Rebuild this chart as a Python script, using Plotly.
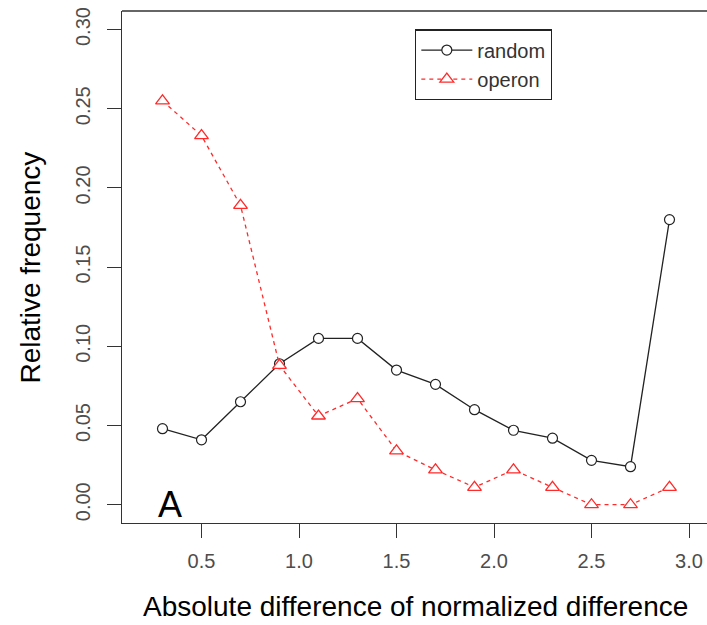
import plotly.graph_objects as go

x_vals = [0.3, 0.5, 0.7, 0.9, 1.1, 1.3, 1.5, 1.7, 1.9, 2.1, 2.3, 2.5, 2.7, 2.9]
random_vals = [0.048, 0.041, 0.065, 0.089, 0.105, 0.105, 0.085, 0.076, 0.060, 0.047, 0.042, 0.028, 0.024, 0.180]
operon_vals = [0.255, 0.233, 0.189, 0.088, 0.056, 0.067, 0.034, 0.022, 0.011, 0.022, 0.011, 0.0, 0.0, 0.011]

x_ticks = [0.5, 1.0, 1.5, 2.0, 2.5, 3.0]
x_ticktext = ["0.5", "1.0", "1.5", "2.0", "2.5", "3.0"]
y_ticks = [0.0, 0.05, 0.10, 0.15, 0.20, 0.25, 0.30]
y_ticktext = ["0.00", "0.05", "0.10", "0.15", "0.20", "0.25", "0.30"]

FONT = "Liberation Sans, Arial, sans-serif"
AX = "#333333"
TICKC = "#4d4d4d"

fig = go.Figure()
fig.add_trace(go.Scatter(
    x=x_vals, y=random_vals, name="random", mode="lines+markers",
    line=dict(color="#222222", width=1.3),
    marker=dict(symbol="circle", size=10, color="white",
                line=dict(color="#222222", width=1.2)),
))
fig.add_trace(go.Scatter(
    x=x_vals, y=operon_vals, name="operon", mode="lines+markers",
    line=dict(color="#ff2a2a", width=1.3, dash="4px,4px"),
    marker=dict(symbol="triangle-up", size=12, color="white",
                line=dict(color="#ff2a2a", width=1.3)),
))

fig.update_layout(
    width=707, height=625,
    margin=dict(l=122, r=0, t=11, b=102, autoexpand=False),
    paper_bgcolor="white", plot_bgcolor="white",
    font=dict(family=FONT, color=TICKC, size=20),
    showlegend=True,
    legend=dict(
        x=0.5009, y=0.9643, xanchor="left", yanchor="top",
        bordercolor="#222222", borderwidth=1.3, bgcolor="white",
        font=dict(family=FONT, size=20, color="#333333"),
        tracegroupgap=0, itemwidth=51,
    ),
    xaxis=dict(
        range=[0.0923, 3.0923], showgrid=False, zeroline=False,
        showline=True, linecolor=AX, linewidth=1.3,
        tickvals=x_ticks, ticktext=x_ticktext,
        ticks="outside", ticklen=14, tickwidth=1.3, tickcolor=AX,
        tickfont=dict(family=FONT, size=20, color=TICKC),
        ticklabelstandoff=6, automargin=False, ticklabeloverflow="allow",
    ),
    yaxis=dict(
        range=[-0.01154, 0.3117], showgrid=False, zeroline=False,
        showline=True, linecolor=AX, linewidth=1.3,
        tickvals=y_ticks, ticktext=y_ticktext, tickangle=-90,
        ticks="outside", ticklen=14, tickwidth=1.3, tickcolor=AX,
        tickfont=dict(family=FONT, size=20, color=TICKC),
        ticklabelstandoff=9, automargin=False, ticklabeloverflow="allow",
    ),
    shapes=[dict(type="line", xref="paper", yref="paper", x0=0, x1=1.01, y0=1, y1=1,
                 line=dict(color=AX, width=1.3))],
    annotations=[
        dict(text="Absolute difference of normalized difference", xref="paper", yref="paper",
             x=0.501, y=-0.163, xanchor="center", yanchor="middle", showarrow=False,
             font=dict(family=FONT, size=28, color="black")),
        dict(text="Relative frequency", xref="paper", yref="paper",
             x=-0.158, y=0.498, xanchor="center", yanchor="middle", showarrow=False,
             textangle=-90, font=dict(family=FONT, size=28, color="black")),
        dict(text="A", xref="x", yref="y", x=0.34, y=0.0, xanchor="center", yanchor="middle",
             showarrow=False, font=dict(family=FONT, size=36, color="black")),
    ],
)

post = ("document.body.style.margin='0';"
        "document.documentElement.style.overflow='hidden';"
        "document.body.style.overflow='hidden';")
fig.write_html("out.html", post_script=post, config={"displayModeBar": False})
